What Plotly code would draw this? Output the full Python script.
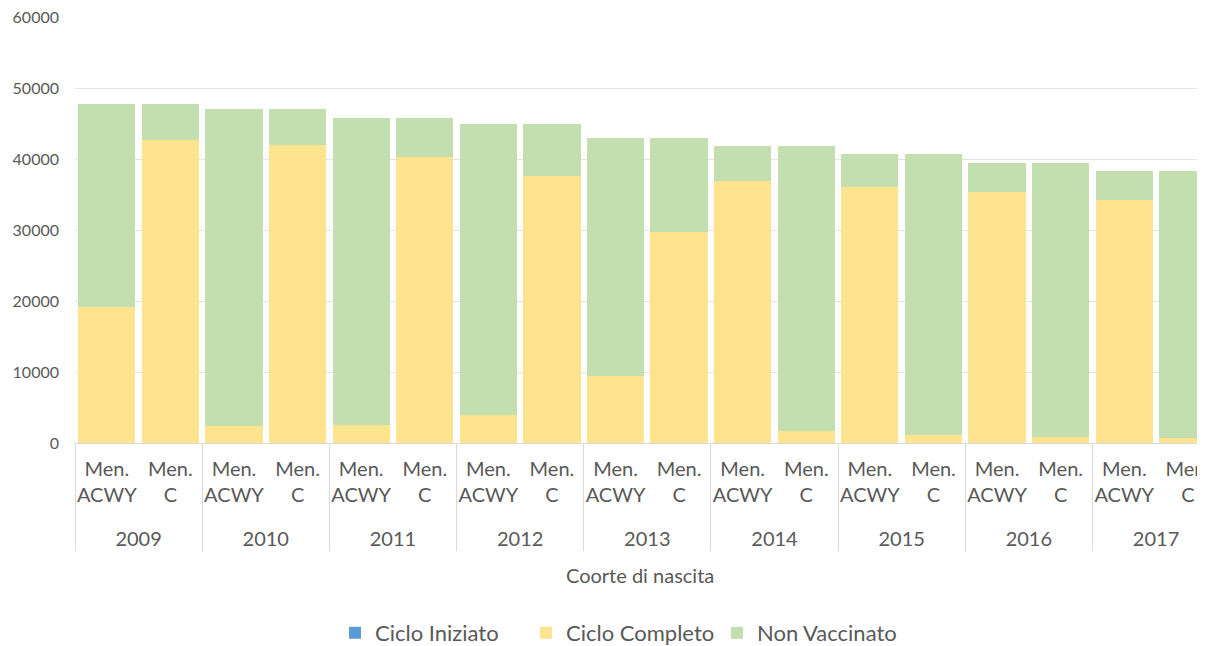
import plotly.graph_objects as go

years = ["2009", "2010", "2011", "2012", "2013", "2014", "2015", "2016", "2017"]
vaccines = ["Men.<br>ACWY", "Men.<br>C"]

# per year: [ACWY, C]
ciclo_iniziato = [0, 0, 0, 0, 0, 0, 0, 0, 0, 0, 0, 0, 0, 0, 0, 0, 0, 0]
ciclo_completo = [19200, 42700, 2400, 42000, 2500, 40300, 3900, 37600, 9400, 29700,
                  36900, 1700, 36100, 1100, 35300, 800, 34200, 700]
totale = [47800, 47800, 47000, 47000, 45800, 45800, 44900, 44900, 43000, 43000,
          41900, 41900, 40700, 40700, 39400, 39400, 38300, 38300]
non_vaccinato = [t - c - i for t, c, i in zip(totale, ciclo_completo, ciclo_iniziato)]

x_outer = ["<br>" + y for y in years for _ in vaccines]
x_inner = [v for _ in years for v in vaccines]

font_family = "Lato, Open Sans, sans-serif"
grey = "#595959"

fig = go.Figure()
fig.add_trace(go.Bar(x=[x_outer, x_inner], y=ciclo_iniziato, name="Ciclo Iniziato",
                     marker=dict(color="#5B9BD5", line=dict(width=0))))
fig.add_trace(go.Bar(x=[x_outer, x_inner], y=ciclo_completo, name="Ciclo Completo",
                     marker=dict(color="#FFE38F", line=dict(width=0))))
fig.add_trace(go.Bar(x=[x_outer, x_inner], y=non_vaccinato, name="Non Vaccinato",
                     marker=dict(color="#C4DFAF", line=dict(width=0))))

fig.update_layout(
    barmode="stack",
    bargap=0.1,
    width=1205, height=646,
    margin=dict(l=67, r=8, t=9, b=211),
    plot_bgcolor="white", paper_bgcolor="white",
    font=dict(family=font_family, color=grey, size=17),
    showlegend=True,
    legend=dict(orientation="h", xref="paper", x=0.2301, xanchor="left",
                yref="container", y=0.0325, yanchor="middle",
                entrywidth=146, entrywidthmode="pixels",
                font=dict(size=22, color=grey), traceorder="normal"),
    xaxis=dict(type="multicategory", range=[-0.5, 17.27], showgrid=False,
               showline=True, linecolor="#D9D9D9", linewidth=1, automargin=False,
               showdividers=True, dividercolor="#D9D9D9", dividerwidth=1,
               tickangle=0, tickfont=dict(size=20, color=grey), ticks="",
               ticklabelstandoff=8),
    yaxis=dict(range=[0, 60000], dtick=10000, showgrid=True, gridcolor="#E3E3E3",
               gridwidth=1, zeroline=False, showline=False, ticks="", automargin=False,
               ticklabeloverflow="allow",
               tickformat="d", tickfont=dict(size=16, color=grey), ticklabelstandoff=15),
    annotations=[dict(text="Coorte di nascita", xref="paper", yref="paper",
                      x=0.5, y=-0.31, xanchor="center", yanchor="middle",
                      showarrow=False, font=dict(size=20, color=grey))],
)

fig.write_html("out.html")
